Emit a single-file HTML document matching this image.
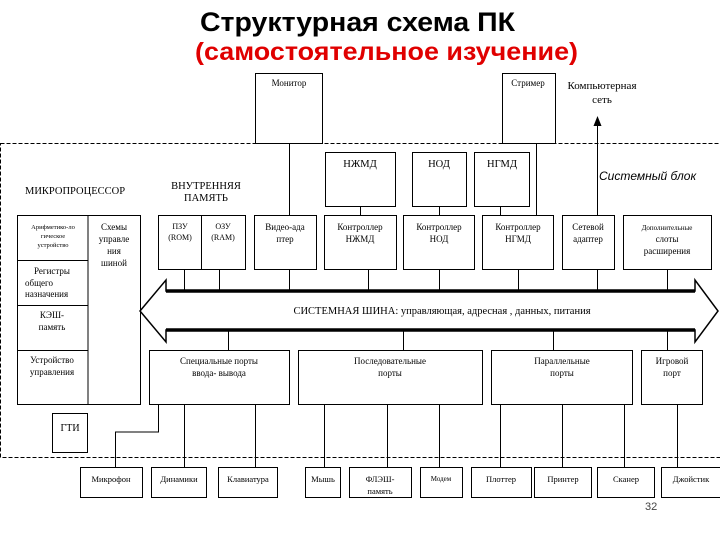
<!DOCTYPE html>
<html><head><meta charset="utf-8"><style>
body{margin:0;width:720px;height:540px;background:#fff;overflow:hidden}
svg text{font-family:"Liberation Serif",serif;fill:#000}
</style></head><body>
<svg width="720" height="540" viewBox="0 0 720 540" xmlns="http://www.w3.org/2000/svg">
<text x="200" y="31" font-size="27" font-weight="bold" textLength="315" lengthAdjust="spacingAndGlyphs" style="font-family:'Liberation Sans',sans-serif">Структурная схема ПК</text>
<text x="195" y="60" font-size="25" font-weight="bold" textLength="383" lengthAdjust="spacingAndGlyphs" style="font-family:'Liberation Sans',sans-serif;fill:#e00000">(самостоятельное изучение)</text>
<rect x="0.5" y="143.5" width="740" height="314" fill="none" stroke="#000" stroke-dasharray="4,2"/>
<g fill="none" stroke="#000" stroke-width="1">
<rect x="255.5" y="73.5" width="67" height="70" fill="#fff"/>
<rect x="502.5" y="73.5" width="53" height="70" fill="#fff"/>
<rect x="17.5" y="215.5" width="123" height="189"/>
<line x1="88" y1="215" x2="88" y2="404"/>
<line x1="17" y1="260.5" x2="88" y2="260.5"/>
<line x1="17" y1="305.5" x2="88" y2="305.5"/>
<line x1="17" y1="350.5" x2="88" y2="350.5"/>
<rect x="158.5" y="215.5" width="87" height="54"/>
<line x1="201.5" y1="215" x2="201.5" y2="269"/>
<rect x="254.5" y="215.5" width="62" height="54"/>
<rect x="325.5" y="152.5" width="70" height="54"/>
<rect x="324.5" y="215.5" width="72" height="54"/>
<rect x="412.5" y="152.5" width="54" height="54"/>
<rect x="403.5" y="215.5" width="71" height="54"/>
<rect x="474.5" y="152.5" width="55" height="54"/>
<rect x="482.5" y="215.5" width="71" height="54"/>
<rect x="562.5" y="215.5" width="52" height="54"/>
<rect x="623.5" y="215.5" width="88" height="54"/>
<rect x="149.5" y="350.5" width="140" height="54"/>
<rect x="298.5" y="350.5" width="184" height="54"/>
<rect x="491.5" y="350.5" width="141" height="54"/>
<rect x="641.5" y="350.5" width="61" height="54"/>
<rect x="52.5" y="413.5" width="35" height="39"/>
<rect x="80.5" y="467.5" width="62" height="30"/>
<rect x="151.5" y="467.5" width="55" height="30"/>
<rect x="218.5" y="467.5" width="59" height="30"/>
<rect x="305.5" y="467.5" width="35" height="30"/>
<rect x="349.5" y="467.5" width="62" height="30"/>
<rect x="420.5" y="467.5" width="42" height="30"/>
<rect x="471.5" y="467.5" width="60" height="30"/>
<rect x="534.5" y="467.5" width="57" height="30"/>
<rect x="597.5" y="467.5" width="57" height="30"/>
<rect x="661.5" y="467.5" width="60" height="30"/>
<path d="M289.5 143V215 M536.5 143V215 M597.5 124V215 M360.5 206V215 M439.5 206V215 M500.5 206V215"/>
<path d="M184.5 269V291 M219.5 269V291 M289.5 269V291 M368.5 269V291 M439.5 269V291 M518.5 269V291 M597.5 269V291 M667.5 269V291"/>
<path d="M228.5 330V350 M403.5 330V350 M553.5 330V350 M667.5 330V350"/>
<path d="M158.5 404V432H115.5V467 M184.5 404V467 M255.5 404V467 M324.5 404V467 M387.5 404V467 M439.5 404V467 M500.5 404V467 M562.5 404V467 M624.5 404V467 M677.5 404V467"/>
</g>
<path d="M597.5 116 L593.5 126 L601.5 126 Z" fill="#000"/>
<path d="M140 311 L166 280 L166 291 L695 291 L695 280 L718 311 L695 342 L695 330 L166 330 L166 342 Z" fill="#fff" stroke="#000" stroke-width="1.5"/>
<path d="M166 291 H695 M166 330 H695" stroke="#000" stroke-width="3.5"/>
<text x="289" y="86" font-size="9" text-anchor="middle">Монитор</text>
<text x="528" y="86" font-size="9" text-anchor="middle">Стример</text>
<text x="602" y="89" font-size="11" text-anchor="middle">Компьютерная</text>
<text x="602" y="103" font-size="11" text-anchor="middle">сеть</text>
<text x="599" y="180" font-size="12" font-style="italic" style="font-family:'Liberation Sans',sans-serif">Системный блок</text>
<text x="25" y="194" font-size="10.5">МИКРОПРОЦЕССОР</text>
<text x="206" y="189" font-size="10.5" text-anchor="middle">ВНУТРЕННЯЯ</text>
<text x="206" y="201" font-size="10.5" text-anchor="middle">ПАМЯТЬ</text>
<text x="53" y="229" font-size="6.5" text-anchor="middle">Арифметико-ло</text>
<text x="53" y="238" font-size="6.5" text-anchor="middle">гическое</text>
<text x="53" y="247" font-size="6.5" text-anchor="middle">устройство</text>
<text x="52" y="274" font-size="9" text-anchor="middle">Регистры</text>
<text x="25" y="286" font-size="9">общего</text>
<text x="25" y="297" font-size="9">назначения</text>
<text x="52" y="318" font-size="9" text-anchor="middle">КЭШ-</text>
<text x="52" y="330" font-size="9" text-anchor="middle">память</text>
<text x="52" y="363" font-size="9" text-anchor="middle">Устройство</text>
<text x="52" y="375" font-size="9" text-anchor="middle">управления</text>
<text x="114" y="230" font-size="9" text-anchor="middle">Схемы</text>
<text x="114" y="242" font-size="9" text-anchor="middle">управле</text>
<text x="114" y="254" font-size="9" text-anchor="middle">ния</text>
<text x="114" y="266" font-size="9" text-anchor="middle">шиной</text>
<text x="180" y="229" font-size="8" text-anchor="middle">ПЗУ</text>
<text x="180" y="240" font-size="8" text-anchor="middle">(ROM)</text>
<text x="223" y="229" font-size="8" text-anchor="middle">ОЗУ</text>
<text x="223" y="240" font-size="8" text-anchor="middle">(RAM)</text>
<text x="285" y="230" font-size="9" text-anchor="middle">Видео-ада</text>
<text x="285" y="242" font-size="9" text-anchor="middle">птер</text>
<text x="360" y="167" font-size="10.5" text-anchor="middle">НЖМД</text>
<text x="439" y="167" font-size="10.5" text-anchor="middle">НОД</text>
<text x="502" y="167" font-size="10.5" text-anchor="middle">НГМД</text>
<text x="360" y="230" font-size="9" text-anchor="middle">Контроллер</text>
<text x="360" y="242" font-size="9" text-anchor="middle">НЖМД</text>
<text x="439" y="230" font-size="9" text-anchor="middle">Контроллер</text>
<text x="439" y="242" font-size="9" text-anchor="middle">НОД</text>
<text x="518" y="230" font-size="9" text-anchor="middle">Контроллер</text>
<text x="518" y="242" font-size="9" text-anchor="middle">НГМД</text>
<text x="588" y="230" font-size="9" text-anchor="middle">Сетевой</text>
<text x="588" y="242" font-size="9" text-anchor="middle">адаптер</text>
<text x="667" y="230" font-size="7" text-anchor="middle">Дополнительные</text>
<text x="667" y="242" font-size="9" text-anchor="middle">слоты</text>
<text x="667" y="254" font-size="9" text-anchor="middle">расширения</text>
<text x="442" y="314" font-size="10.5" text-anchor="middle">СИСТЕМНАЯ ШИНА: управляющая, адресная , данных, питания</text>
<text x="219" y="364" font-size="9" text-anchor="middle">Специальные порты</text>
<text x="219" y="376" font-size="9" text-anchor="middle">ввода- вывода</text>
<text x="390" y="364" font-size="9" text-anchor="middle">Последовательные</text>
<text x="390" y="376" font-size="9" text-anchor="middle">порты</text>
<text x="562" y="364" font-size="9" text-anchor="middle">Параллельные</text>
<text x="562" y="376" font-size="9" text-anchor="middle">порты</text>
<text x="672" y="364" font-size="9" text-anchor="middle">Игровой</text>
<text x="672" y="376" font-size="9" text-anchor="middle">порт</text>
<text x="70" y="431" font-size="10" text-anchor="middle">ГТИ</text>
<text x="111" y="482" font-size="8.5" text-anchor="middle">Микрофон</text>
<text x="179" y="482" font-size="8.5" text-anchor="middle">Динамики</text>
<text x="248" y="482" font-size="8.5" text-anchor="middle">Клавиатура</text>
<text x="323" y="482" font-size="8.5" text-anchor="middle">Мышь</text>
<text x="380" y="482" font-size="8.5" text-anchor="middle">ФЛЭШ-</text>
<text x="380" y="494" font-size="8.5" text-anchor="middle">память</text>
<text x="441" y="481" font-size="7" text-anchor="middle">Модем</text>
<text x="501" y="482" font-size="8.5" text-anchor="middle">Плоттер</text>
<text x="563" y="482" font-size="8.5" text-anchor="middle">Принтер</text>
<text x="626" y="482" font-size="8.5" text-anchor="middle">Сканер</text>
<text x="691" y="482" font-size="8.5" text-anchor="middle">Джойстик</text>
<text x="645" y="510" font-size="11" style="font-family:'Liberation Sans',sans-serif;fill:#444">32</text>
</svg>
</body></html>
